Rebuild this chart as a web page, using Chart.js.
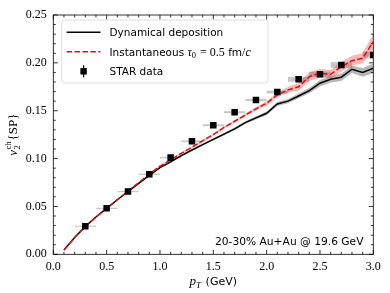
<!DOCTYPE html>
<html><head><meta charset="utf-8">
<script src="https://cdn.jsdelivr.net/npm/chart.js@4/dist/chart.umd.min.js"></script>
<style>html,body{margin:0;padding:0;background:#fff;}canvas{display:block;}</style>
</head><body>
<canvas id="c" width="390" height="293" style="width:390px;height:293px"></canvas>
<script>
// ---------- data ----------
const thPt = [0.1,0.2,0.3,0.4,0.5,0.6,0.7,0.8,0.9,1.0,1.1,1.2,1.3,1.4,1.5,1.6,1.7,1.8,1.9,2.0,2.1,2.2,2.3,2.4,2.5,2.6,2.7,2.8,2.9,3.0];
const dynV2 = [0.0045,0.0175,0.029,0.039,0.048,0.057,0.0655,0.074,0.0825,0.0905,0.0965,0.103,0.109,0.1145,0.120,0.1255,0.131,0.1375,0.1425,0.1473,0.157,0.160,0.1654,0.171,0.1787,0.1829,0.185,0.1933,0.190,0.1944];
const dynErr = [0,0,0,0,0,0.0003,0.0004,0.0005,0.0006,0.0007,0.0008,0.0009,0.001,0.0011,0.0012,0.0013,0.0014,0.0015,0.0017,0.0019,0.002,0.0022,0.0025,0.0027,0.0035,0.0035,0.004,0.004,0.0045,0.005];
const instV2 = [0.0045,0.0175,0.029,0.039,0.048,0.057,0.066,0.0748,0.0838,0.092,0.0985,0.1055,0.112,0.1185,0.125,0.1325,0.139,0.1455,0.152,0.1578,0.1665,0.1717,0.175,0.1856,0.1891,0.188,0.196,0.2023,0.2048,0.2222];
const instErr = [0,0,0,0,0,0.0003,0.0004,0.0005,0.0006,0.0007,0.0008,0.0009,0.001,0.0011,0.0012,0.0013,0.0014,0.0015,0.0017,0.002,0.0025,0.003,0.004,0.0045,0.0045,0.0045,0.005,0.005,0.0055,0.008];
const starPt = [0.3,0.5,0.7,0.9,1.1,1.3,1.5,1.7,1.9,2.1,2.3,2.5,2.7,3.0];
const starV2 = [0.0293,0.048,0.0655,0.0836,0.101,0.118,0.1348,0.1484,0.1612,0.1695,0.1829,0.1881,0.1978,0.2082];
const starSys = [0.0006,0.0006,0.0006,0.0007,0.0008,0.0009,0.001,0.0011,0.0012,0.0015,0.0026,0.0028,0.003,0.0035];
const starBinHalf = [0.1,0.1,0.1,0.1,0.1,0.1,0.1,0.1,0.1,0.1,0.1,0.1,0.1,0.1];
const xTickValues = [0.0,0.5,1.0,1.5,2.0,2.5,3.0];
const yTickValues = [0.00,0.05,0.10,0.15,0.20,0.25];
const legendLabels = ['Dynamical deposition','Instantaneous ','STAR data'];
const annotationText = '20-30% Au+Au @ 19.6 GeV';

// ---------- styles ----------
const RED = '#e01010';
const SERIF = '"Liberation Serif"';
const SANS = '"DejaVu Sans"';

const pts = (xs, ys) => xs.map((x,i)=>({x, y: ys[i]}));
const band = (xs, ys, es, s) => xs.map((x,i)=>({x, y: ys[i] + s*es[i]}));

// systematic boxes via scales
const sysBoxes = {
  id: 'sysBoxes',
  beforeDatasetsDraw(chart){
    const {ctx, chartArea:a, scales:{x,y}} = chart;
    ctx.save();
    ctx.beginPath(); ctx.rect(a.left, a.top, a.right-a.left, a.bottom-a.top); ctx.clip();
    ctx.fillStyle = 'rgba(0,0,0,0.22)';
    starPt.forEach((p,i)=>{
      const x0 = x.getPixelForValue(p - starBinHalf[i]);
      const x1 = x.getPixelForValue(p + starBinHalf[i]);
      const y0 = y.getPixelForValue(starV2[i] + starSys[i]);
      const y1 = y.getPixelForValue(starV2[i] - starSys[i]);
      ctx.fillRect(x0, y0, x1-x0, Math.max(1, y1-y0));
    });
    ctx.restore();
  }
};

function drawPieces(ctx, pieces, x, y){
  let cx = x;
  pieces.forEach(p=>{
    ctx.font = p.font;
    ctx.fillText(p.t, cx, y + (p.dy||0));
    cx += ctx.measureText(p.t).width + (p.after||0);
  });
  return cx;
}
function piecesWidth(ctx, pieces){
  let w = 0;
  pieces.forEach(p=>{ ctx.font = p.font; w += ctx.measureText(p.t).width + (p.after||0); });
  return w;
}

const frameDeco = {
  id: 'frameDeco',
  afterDatasetsDraw(chart){
    const {ctx, chartArea:a, scales:{x,y}} = chart;
    ctx.save();
    ctx.strokeStyle = '#000';
    ctx.lineWidth = 0.8;
    ctx.strokeRect(a.left, a.top, a.right-a.left, a.bottom-a.top);
    ctx.beginPath();
    for (let k=0; k<=30; k++){
      const v = k/10;
      const px = x.getPixelForValue(v);
      const L = (k%5===0) ? 4.5 : 2.5;
      ctx.moveTo(px, a.bottom); ctx.lineTo(px, a.bottom - L);
      ctx.moveTo(px, a.top); ctx.lineTo(px, a.top + L);
    }
    for (let k=0; k<=25; k++){
      const v = k/100;
      const py = y.getPixelForValue(v);
      const L = (k%5===0) ? 4.5 : 2.5;
      ctx.moveTo(a.left, py); ctx.lineTo(a.left + L, py);
      ctx.moveTo(a.right, py); ctx.lineTo(a.right - L, py);
    }
    ctx.stroke();
    ctx.restore();
  },
  afterDraw(chart){
    const {ctx, chartArea:a} = chart;
    ctx.save();
    ctx.fillStyle = '#000';
    ctx.textBaseline = 'alphabetic';
    // x title
    const xt = [
      {t:'p', font:'italic 13px '+SERIF},
      {t:'T', font:'italic 9px '+SERIF, dy:2.5, after:1},
      {t:' (GeV)', font:'11px '+SANS}
    ];
    const xw = piecesWidth(ctx, xt);
    drawPieces(ctx, xt, (a.left+a.right)/2 - xw/2, 285);
    // y title
    ctx.save();
    ctx.translate(17, (a.top+a.bottom)/2);
    ctx.rotate(-Math.PI/2);
    ctx.font = 'italic 13px '+SERIF;
    const wv = ctx.measureText('v').width;
    ctx.font = '8.5px '+SERIF;
    const ws = Math.max(ctx.measureText('2').width, ctx.measureText('ch').width);
    ctx.font = '13px '+SERIF;
    const wsp = ctx.measureText('{SP}').width;
    const tot = wv + 0.5 + ws + 1 + wsp;
    let cx = -tot/2;
    ctx.font = 'italic 13px '+SERIF; ctx.fillText('v', cx, 0); cx += wv + 0.5;
    ctx.font = '8.5px '+SERIF; ctx.fillText('2', cx, 3); ctx.fillText('ch', cx, -6); cx += ws + 1;
    ctx.font = '13px '+SERIF; ctx.fillText('{SP}', cx, 0);
    ctx.restore();

    // legend box
    const bx = 61.7, by = 20, bw = 206.3, bh = 63, r = 3;
    ctx.beginPath();
    ctx.moveTo(bx+r, by); ctx.lineTo(bx+bw-r, by); ctx.arcTo(bx+bw, by, bx+bw, by+r, r);
    ctx.lineTo(bx+bw, by+bh-r); ctx.arcTo(bx+bw, by+bh, bx+bw-r, by+bh, r);
    ctx.lineTo(bx+r, by+bh); ctx.arcTo(bx, by+bh, bx, by+bh-r, r);
    ctx.lineTo(bx, by+r); ctx.arcTo(bx, by, bx+r, by, r); ctx.closePath();
    ctx.fillStyle = 'rgba(255,255,255,0.8)'; ctx.fill();
    ctx.strokeStyle = '#d6d6d6'; ctx.lineWidth = 0.8; ctx.stroke();

    const rows = [32.3, 51.7, 71.3];
    const tx = 109.5;
    ctx.strokeStyle = '#000'; ctx.lineWidth = 1.5; ctx.setLineDash([]);
    ctx.beginPath(); ctx.moveTo(66.7, rows[0]); ctx.lineTo(100.5, rows[0]); ctx.stroke();
    ctx.fillStyle = '#000'; ctx.font = '10.5px '+SANS;
    ctx.fillText(legendLabels[0], tx, rows[0]+3.8);
    ctx.strokeStyle = RED; ctx.setLineDash([5.5,2.4]);
    ctx.beginPath(); ctx.moveTo(66.7, rows[1]); ctx.lineTo(100.5, rows[1]); ctx.stroke();
    ctx.setLineDash([]);
    drawPieces(ctx, [
      {t:legendLabels[1], font:'10.5px '+SANS},
      {t:'τ', font:'italic 12px '+SERIF},
      {t:'0', font:'8.5px '+SERIF, dy:2.5, after:1},
      {t:' = 0.5', font:'12px '+SERIF},
      {t:' fm', font:'10.5px '+SANS},
      {t:'/', font:'12px '+SERIF},
      {t:'c', font:'italic 12px '+SERIF}
    ], tx, rows[1]+3.8);
    ctx.fillStyle = '#000';
    ctx.fillRect(83.6-3.2, rows[2]-3.2, 6.4, 6.4);
    ctx.lineWidth = 1.2; ctx.strokeStyle = '#000';
    ctx.beginPath(); ctx.moveTo(83.6, rows[2]-6); ctx.lineTo(83.6, rows[2]+6); ctx.stroke();
    ctx.font = '10.5px '+SANS;
    ctx.fillText(legendLabels[2], tx, rows[2]+3.8);

    // annotation
    ctx.font = '10.7px '+SANS;
    ctx.textAlign = 'right';
    ctx.fillText(annotationText, 363.5, 245);
    ctx.restore();
  }
};

new Chart(document.getElementById('c'), {
  type: 'line',
  data: {
    datasets: [
      { label:'STAR data', data: pts(starPt, starV2), showLine:false, pointStyle:'rect',
        pointRadius:4.6, pointBackgroundColor:'#000', pointBorderWidth:0, order:0, clip:0 },
      { label:'Instantaneous', data: pts(thPt, instV2), borderColor:RED, borderWidth:1.5,
        borderDash:[5.5,2.4], pointRadius:0, tension:0, fill:false, order:1, clip:0 },
      { label:'Dynamical deposition', data: pts(thPt, dynV2), borderColor:'#000', borderWidth:1.5,
        pointRadius:0, tension:0, fill:false, order:2, clip:0 },
      { label:'inst hi', data: band(thPt, instV2, instErr, 1), borderWidth:0, pointRadius:0, fill:false, order:3, clip:0 },
      { label:'inst lo', data: band(thPt, instV2, instErr, -1), borderWidth:0, pointRadius:0,
        fill:'-1', backgroundColor:'rgba(225,20,20,0.3)', order:3, clip:0 },
      { label:'dyn hi', data: band(thPt, dynV2, dynErr, 1), borderWidth:0, pointRadius:0, fill:false, order:4, clip:0 },
      { label:'dyn lo', data: band(thPt, dynV2, dynErr, -1), borderWidth:0, pointRadius:0,
        fill:'-1', backgroundColor:'rgba(0,0,0,0.28)', order:4, clip:0 }
    ]
  },
  options: {
    responsive:false, animation:false, devicePixelRatio:1,
    layout:{ padding:{ top:15, right:16.7, left:0, bottom:0 } },
    plugins:{ legend:{display:false}, tooltip:{enabled:false} },
    scales:{
      x:{ type:'linear', min:0, max:3,
        grid:{display:false, drawTicks:false}, border:{display:false},
        afterBuildTicks: s => { s.ticks = xTickValues.map(v=>({value:v})); },
        ticks:{ padding:5, color:'#000', font:{family:'Liberation Serif', size:12},
          callback: v => Number(v).toFixed(1), maxRotation:0, autoSkip:false },
        afterFit: s => { s.height = 38.7; } },
      y:{ type:'linear', min:0, max:0.25,
        grid:{display:false, drawTicks:false}, border:{display:false},
        afterBuildTicks: s => { s.ticks = yTickValues.map(v=>({value:v})); },
        ticks:{ padding:6.5, color:'#000', font:{family:'Liberation Serif', size:12},
          callback: v => Number(v).toFixed(2), autoSkip:false },
        afterFit: s => { s.width = 53.3; } }
    }
  },
  plugins:[sysBoxes, frameDeco]
});
</script></body></html>
